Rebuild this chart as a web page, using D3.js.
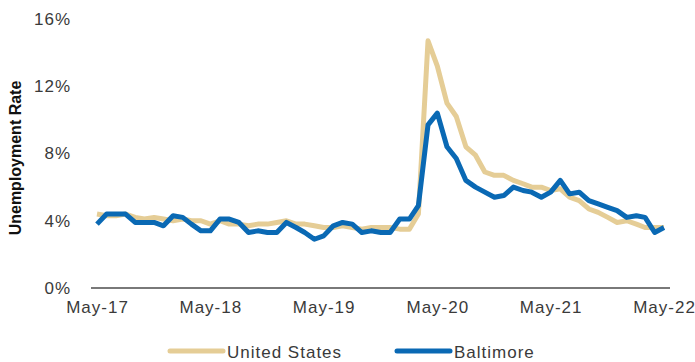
<!DOCTYPE html>
<html>
<head>
<meta charset="utf-8">
<script src="https://cdn.jsdelivr.net/npm/d3@7"></script>
<style>
  body { margin: 0; background: #fff; }
  text { font-family: "Liberation Sans", Arial, sans-serif; fill: #3a3a3a; }
</style>
</head>
<body>
<script>
// monthly, May-17 .. May-22
var startMonth = new Date(2017, 4, 1);
var unitedStates = [
  4.4, 4.3, 4.3, 4.4, 4.2, 4.1, 4.2, 4.1,
  4.0, 4.1, 4.0, 4.0, 3.8, 4.0, 3.8, 3.8, 3.7, 3.8, 3.8, 3.9,
  4.0, 3.8, 3.8, 3.7, 3.6, 3.6, 3.7, 3.6, 3.5, 3.6, 3.6, 3.6,
  3.5, 3.5, 4.4, 14.7, 13.2, 11.0, 10.2, 8.4, 7.9, 6.9, 6.7, 6.7,
  6.4, 6.2, 6.0, 6.0, 5.8, 5.9, 5.4, 5.2, 4.7, 4.5, 4.2, 3.9,
  4.0, 3.8, 3.6, 3.6, 3.6
];
var baltimore = [
  3.8, 4.4, 4.4, 4.4, 3.9, 3.9, 3.9, 3.7,
  4.3, 4.2, 3.8, 3.4, 3.4, 4.1, 4.1, 3.9, 3.3, 3.4, 3.3, 3.3,
  3.9, 3.6, 3.3, 2.9, 3.1, 3.7, 3.9, 3.8, 3.3, 3.4, 3.3, 3.3,
  4.1, 4.1, 4.9, 9.7, 10.4, 8.4, 7.7, 6.4, 6.0, 5.7, 5.4, 5.5,
  6.0, 5.8, 5.7, 5.4, 5.7, 6.4, 5.6, 5.7, 5.2, 5.0, 4.8, 4.6,
  4.2, 4.3, 4.2, 3.3, 3.6
];
var yTicks = [0, 4, 8, 12, 16];
var xTickYears = [2017, 2018, 2019, 2020, 2021, 2022];
var seriesNames = ['United States', 'Baltimore'];
var seriesColors = ['#E5CD96', '#0A69B4'];

var width = 695, height = 362;
var margin = { top: 19, left: 97, right: 31, bottom: 74 };

var svg = d3.select('body').append('svg')
  .attr('width', width)
  .attr('height', height);

var x = d3.scaleTime()
  .domain([startMonth, new Date(2022, 4, 1)])
  .range([margin.left, width - margin.right]);

var y = d3.scaleLinear()
  .domain([0, 16])
  .range([height - margin.bottom, margin.top]);

function monthDate(i) { return d3.timeMonth.offset(startMonth, i); }

// y labels
svg.append('g')
  .attr('transform', 'translate(71,0)')
  .call(d3.axisLeft(y).tickValues(yTicks).tickSize(0).tickPadding(0).tickFormat(function(d) { return d + '%'; }))
  .call(function(g) {
    g.select('.domain').remove();
    g.selectAll('text')
      .attr('font-size', 17)
      .style('letter-spacing', '1px')
      .style('font-family', null);
  });

// x axis
var xAxis = svg.append('g')
  .attr('transform', 'translate(0,' + y(0) + ')')
  .call(d3.axisBottom(x)
    .tickValues(xTickYears.map(function(yr) { return new Date(yr, 4, 1); }))
    .tickSize(0).tickPadding(13)
    .tickFormat(d3.timeFormat('%b-%y')));
xAxis.select('.domain')
  .attr('d', 'M' + (x.range()[0] - 6) + ',0H' + (x.range()[1] + 6))
  .attr('stroke', '#4d4d4d')
  .attr('stroke-width', 1.6);
xAxis.selectAll('text')
  .attr('font-size', 17)
  .style('letter-spacing', '1px')
  .style('font-family', null);

// y title
svg.append('text')
  .attr('transform', 'translate(21,' + 158 + ') rotate(-90)')
  .attr('text-anchor', 'middle')
  .attr('font-size', 16)
  .attr('font-weight', 'bold')
  .style('fill', '#111')
  .text('Unemployment Rate');

var line = d3.line()
  .x(function(d, i) { return x(monthDate(i)); })
  .y(function(d) { return y(d); });

[unitedStates, baltimore].forEach(function(s, k) {
  svg.append('path')
    .datum(s)
    .attr('fill', 'none')
    .attr('stroke', seriesColors[k])
    .attr('stroke-width', 5)
    .attr('stroke-linejoin', 'round')
    .attr('d', line);
});

// legend
var legendX = [168, 395];
seriesNames.forEach(function(name, k) {
  var lg = svg.append('g').attr('transform', 'translate(' + legendX[k] + ',351)');
  lg.append('line')
    .attr('x1', 2).attr('x2', 55)
    .attr('stroke', seriesColors[k])
    .attr('stroke-width', 5)
    .attr('stroke-linecap', 'round');
  lg.append('text')
    .attr('x', 59)
    .attr('y', 6.5)
    .attr('font-size', 17)
    .style('letter-spacing', '1px')
    .text(name);
});
</script>
</body>
</html>
